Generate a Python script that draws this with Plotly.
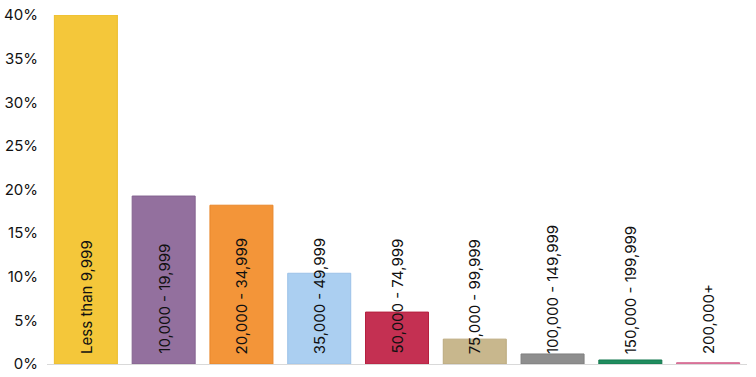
import plotly.graph_objects as go

categories = ["Less than 9,999", "10,000 - 19,999", "20,000 - 34,999", "35,000 - 49,999",
              "50,000 - 74,999", "75,000 - 99,999", "100,000 - 149,999", "150,000 - 199,999",
              "200,000+"]
values = [40.0, 19.25, 18.2, 10.4, 5.95, 2.85, 1.15, 0.46, 0.15]
tick_values = [0, 5, 10, 15, 20, 25, 30, 35, 40]
tick_labels = ["0%", "5%", "10%", "15%", "20%", "25%", "30%", "35%", "40%"]
colors = ["#F4C73A", "#93709E", "#F39539", "#ABCFF1", "#C43052", "#C8B78D",
          "#8E8E8E", "#1F8C5E", "#E07BA0"]
outlines = ["#EBBD2E", "#84638F", "#E8872A", "#9CC2E8", "#B5203F", "#BBA97E",
            "#7F7F7F", "#177A50", "#D46A92"]

fig = go.Figure(go.Bar(
    x=categories, y=values,
    marker=dict(color=colors, line=dict(color=outlines, width=1)),
    hoverinfo="skip",
))

for c in categories:
    fig.add_annotation(x=c, y=0, xref="x", yref="y", text=c, showarrow=False,
                       textangle=-90, yanchor="bottom", xanchor="center", yshift=8,
                       font=dict(family="Inter, sans-serif", size=15, color="#111111"))

fig.update_layout(
    width=756, height=377,
    margin=dict(l=47, r=9, t=15, b=13, autoexpand=False),
    paper_bgcolor="white", plot_bgcolor="white",
    bargap=0.19,
    showlegend=False,
    font=dict(family="Inter, sans-serif", size=15, color="#111111"),
)
fig.update_xaxes(showticklabels=False, showline=True, linecolor="#D9D9D9", linewidth=1,
                 ticks="", showgrid=False, automargin=False)
fig.update_yaxes(range=[0, 40], tickvals=tick_values, ticktext=tick_labels,
                 showgrid=False, zeroline=False, showline=False, automargin=False,
                 ticks="", ticklabelstandoff=8, ticklabeloverflow="allow",
                 tickfont=dict(size=15, color="#111111"))

fig.write_html("out.html",
               config={"displayModeBar": False, "staticPlot": True},
               post_script="document.body.style.margin='0';document.body.style.overflow='hidden';")
